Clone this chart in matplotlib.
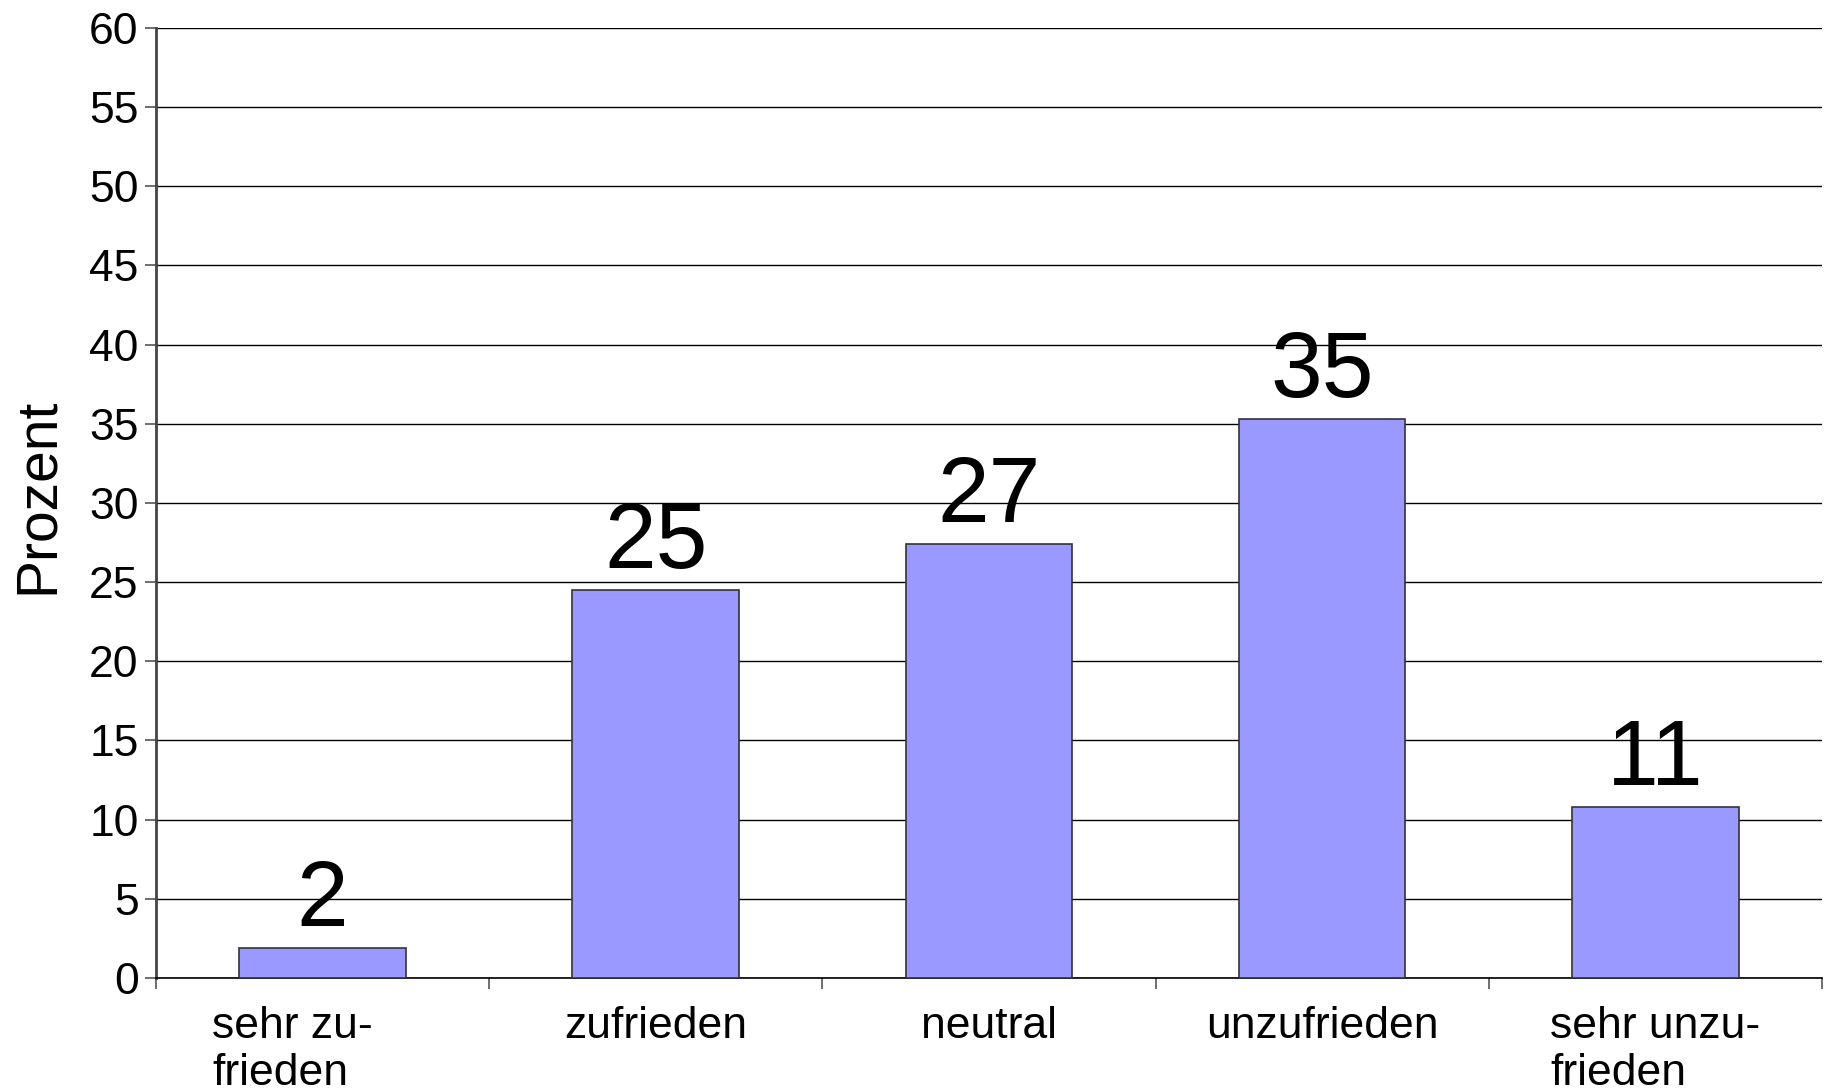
import matplotlib
matplotlib.use("Agg")
import matplotlib.pyplot as plt
from matplotlib.transforms import ScaledTranslation
import numpy as np

categories = ["sehr zu-\nfrieden", "zufrieden", "neutral", "unzufrieden",
              "sehr unzu-\nfrieden"]
values = [1.9, 24.5, 27.4, 35.3, 10.8]
value_labels = ["2", "25", "27", "35", "11"]
yticks = list(range(0, 61, 5))

plt.rcParams["font.family"] = ["Liberation Sans", "DejaVu Sans"]

fig = plt.figure(figsize=(18.3, 10.9), dpi=100)
ax = fig.add_axes([0.0852, 0.1028, 0.9104, 0.8715])

x = np.arange(len(categories))
bars = ax.bar(x, values, width=0.5, color="#9999ff", edgecolor="#333333",
              linewidth=1.2, zorder=3)

for b, lab in zip(bars, value_labels):
    ax.annotate(lab, (b.get_x() + b.get_width() / 2, b.get_height()),
                xytext=(0, 16), textcoords="offset points",
                ha="center", va="baseline", fontsize=67, zorder=4)

ax.set_xlim(-0.5, len(categories) - 0.5)
ax.set_ylim(0, 60)
ax.set_yticks(yticks)
ax.set_yticklabels([str(t) for t in yticks], fontsize=32)
ax.yaxis.grid(True, color="black", lw=1.0, zorder=0)
ax.set_axisbelow(True)

# x ticks sit between categories, labels centred under the bars
ax.set_xticks(np.arange(len(categories) + 1) - 0.5)
ax.set_xticklabels([])
ax.set_xticks(x, minor=True)
ax.set_xticklabels(categories, minor=True, fontsize=32, multialignment="left")
ax.tick_params(axis="x", which="minor", length=0, pad=20)
ax.tick_params(axis="x", which="major", length=8, width=1.2, color="#555555")
ax.tick_params(axis="y", length=8, width=1.2, color="#555555", pad=4.5)

# first label sits a bit left of its bar in the original
first = ax.get_xticklabels(minor=True)[0]
first.set_transform(first.get_transform()
                    + ScaledTranslation(-0.3, 0, fig.dpi_scale_trans))

ax.set_ylabel("Prozent", fontsize=41)
ax.yaxis.set_label_coords(-0.0546, 0.508)

for s in ("top", "right"):
    ax.spines[s].set_visible(False)
ax.spines["left"].set_color("#444444")
ax.spines["left"].set_linewidth(2)
ax.spines["bottom"].set_color("black")
ax.spines["bottom"].set_linewidth(1.2)

fig.savefig("out.png", dpi=100)
